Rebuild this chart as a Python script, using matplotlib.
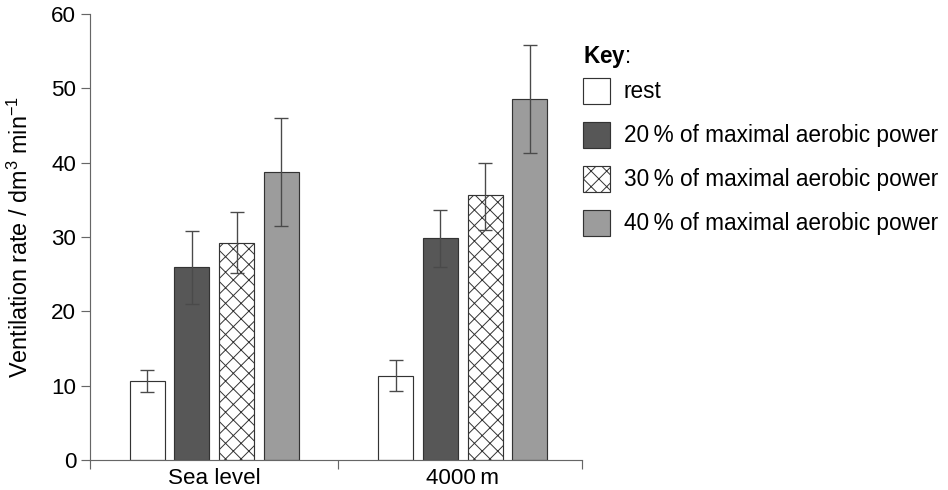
import matplotlib
matplotlib.use("Agg")
import matplotlib.pyplot as plt
import numpy as np

plt.rcParams['font.family'] = ['Liberation Sans', 'DejaVu Sans']
plt.rcParams['mathtext.fontset'] = 'custom'
plt.rcParams['mathtext.rm'] = 'Liberation Sans'
plt.rcParams['mathtext.bf'] = 'Liberation Sans:bold'
plt.rcParams['mathtext.it'] = 'Liberation Sans:italic'
plt.rcParams['hatch.linewidth'] = 0.5

groups = ['Sea level', '4000\u2009m']
series = ['rest',
          '20\u2009% of maximal aerobic power',
          '30\u2009% of maximal aerobic power',
          '40\u2009% of maximal aerobic power']
means = {
    'rest': [10.6, 11.35],
    '20': [25.9, 29.8],
    '30': [29.2, 35.6],
    '40': [38.8, 48.5],
}
err_low = {
    'rest': [9.15, 9.3],
    '20': [21.0, 25.9],
    '30': [25.1, 31.0],
    '40': [31.5, 41.3],
}
err_high = {
    'rest': [12.1, 13.5],
    '20': [30.8, 33.6],
    '30': [33.3, 40.0],
    '40': [46.0, 55.8],
}
keys = ['rest', '20', '30', '40']
facecolors = ['white', '#575757', 'white', '#9c9c9c']
hatches = [None, None, 'xxx', None]

DPI = 140
fig = plt.figure(figsize=(948 / DPI, 490 / DPI), dpi=DPI)
ax = fig.add_axes([90 / 948, 1 - 460 / 490, (582 - 90) / 948, (460 - 14) / 490])

x = np.arange(len(groups))
width = 0.141
step = 0.18
handles = []
for i, k in enumerate(keys):
    m = np.array(means[k])
    lo = m - np.array(err_low[k])
    hi = np.array(err_high[k]) - m
    pos = x + (i - 1.5) * step
    b = ax.bar(pos, m, width, color=facecolors[i], edgecolor='#333333',
               linewidth=0.6, hatch=hatches[i], label=series[i], zorder=2)
    ax.errorbar(pos, m, yerr=[lo, hi], fmt='none', ecolor='#4a4a4a',
                elinewidth=0.7, capsize=3.8, capthick=0.7, zorder=3)
    handles.append(b)

ax.set_ylim(0, 60)
ax.set_xlim(-0.5, 1.48)
ax.set_yticks(np.arange(0, 61, 10))
ax.set_xticks(x)
ax.set_xticklabels(groups)
ax.set_xticks([-0.5, 0.5, 1.48], minor=True)
ax.tick_params(axis='x', which='major', length=0, pad=4, labelsize=11.5)
ax.tick_params(axis='x', which='minor', length=4.6, width=0.6, color='#666666')
ax.tick_params(axis='y', length=4.6, width=0.6, color='#666666', pad=2.5,
               labelsize=11.5)
for s in ['top', 'right']:
    ax.spines[s].set_visible(False)
for s in ['left', 'bottom']:
    ax.spines[s].set_color('#666666')
    ax.spines[s].set_linewidth(0.6)

ax.set_ylabel('Ventilation rate / dm$^{3}$ min$^{-1}$', fontsize=12)
ax.yaxis.set_label_coords(-0.117, 0.5)

fig.text(583 / 948, 1 - 57 / 490, '$\\mathbf{Key}$:', fontsize=11.6,
         ha='left', va='center')
leg = ax.legend(handles=handles, labels=series,
                loc='upper left', bbox_to_anchor=(583 / 948, 1 - 77.5 / 490),
                bbox_transform=fig.transFigure, frameon=False, fontsize=11.65,
                borderpad=0, borderaxespad=0, handlelength=1.2,
                handleheight=1.39, handletextpad=0.6, labelspacing=0.8)

fig.savefig('out.png', dpi=DPI)
